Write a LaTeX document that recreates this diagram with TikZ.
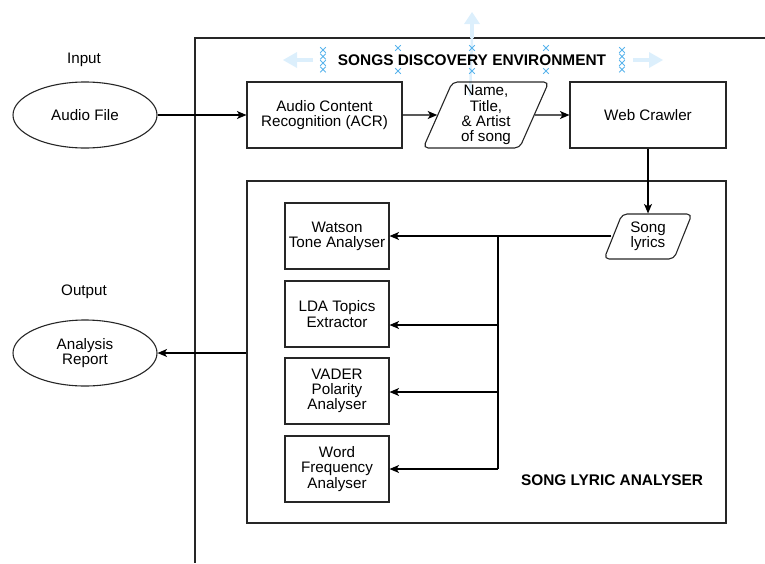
\documentclass[tikz,border=0pt]{standalone}
\usepackage{fontspec}
\setmainfont{Liberation Sans}
\usetikzlibrary{shapes.geometric,arrows.meta}

\definecolor{handlepale}{HTML}{DCEFFC}
\definecolor{handlex}{HTML}{5AB4EC}

\tikzset{
  every node/.style={font=\fontsize{15.2}{15.3}\selectfont, align=center, inner sep=0pt},
  stroke/.style={draw=black!85, line width=1.1pt},
  block/.style={stroke, rectangle, minimum height=66pt},
  oval/.style={stroke, ellipse, minimum width=144pt, minimum height=66pt},
  slanted/.style={stroke, trapezium, rounded corners=5pt,
    trapezium stretches=true},
  title/.style={font=\fontsize{15.4}{15.4}\selectfont\bfseries},
  flow/.style={draw=black, line width=1.1pt,
    -{Stealth[length=9.5pt,width=8pt,inset=2.5pt]}},
  plain/.style={draw=black, line width=1.1pt},
  paleline/.style={draw=handlepale, line width=3.5pt},
  palehead/.style={fill=handlepale, draw=none},
}

% small cross used as a selection handle
\newcommand{\handlecross}[2]{%
  \draw[handlex, line width=1pt] (#1-2.8,#2-2.8) -- (#1+2.8,#2+2.8)
                                (#1-2.8,#2+2.8) -- (#1+2.8,#2-2.8);}

\begin{document}
\begin{tikzpicture}[x=1pt, y=-1pt]
\useasboundingbox (0,0) rectangle (765,563);

% environment frame (open to the right and bottom)
\draw[stroke] (765,38) -- (195,38) -- (195,563);

% selection handles around the environment title
\draw[paleline] (472,38) -- (472,24);
\fill[palehead] (472,12) -- (480,24) -- (464,24) -- cycle;
\draw[draw=handlepale, line width=2.5pt] (472,38) -- (470,96);
\draw[paleline] (313,60) -- (297,60);
\fill[palehead] (283,60) -- (297,52) -- (297,68) -- cycle;
\draw[paleline] (633,60) -- (649,60);
\fill[palehead] (663,60) -- (649,52) -- (649,68) -- cycle;
\foreach \yy in {50,56.5,63,69.5} {\handlecross{323}{\yy}\handlecross{622}{\yy}}
\foreach \xx in {398,472,546} {\handlecross{\xx}{48}\handlecross{\xx}{71}}

\node[title] (envtitle) at (472,60) {SONGS DISCOVERY ENVIRONMENT};

% input side
\node (inputlabel) at (84,60) {Input};
\node[oval] (audio) at (85,115) {Audio File};

% discovery chain
\node[block, minimum width=155pt] (acr) at (324.5,115) {Audio Content\\Recognition (ACR)};
\node[slanted, minimum width=126pt, minimum height=66pt,
      trapezium left angle=70, trapezium right angle=110] (meta) at (486,115)
      {Name,\\Title,\\\& Artist\\of song};
\node[block, minimum width=156pt] (crawler) at (648,115) {Web Crawler};

% lyric analyser frame
\node[stroke, rectangle, minimum width=479pt, minimum height=342pt] (analyser) at (486.5,352) {};
\node[title] (anltitle) at (612,480) {SONG LYRIC ANALYSER};

\node[slanted, minimum width=88pt, minimum height=45pt,
      trapezium left angle=67, trapezium right angle=113] (lyrics) at (648,236.5)
      {Song\\lyrics};

\node[block, minimum width=104pt] (watson) at (337,236) {Watson\\Tone Analyser};
\node[block, minimum width=104pt] (lda) at (337,314) {LDA Topics\\Extractor};
\node[block, minimum width=104pt] (vader) at (337,391) {VADER\\Polarity\\Analyser};
\node[block, minimum width=104pt] (wordfreq) at (337,469) {Word\\Frequency\\Analyser};

% output side
\node (outputlabel) at (84,292) {Output};
\node[oval] (report) at (85,353) {Analysis\\Report};

% connectors
\draw[flow] (audio) -- (acr);
\draw[flow] (acr) -- (meta);
\draw[flow] (meta) -- (crawler);
\draw[flow] (crawler.south) -- (lyrics.north -| crawler.south);

\coordinate (trunktop) at (498,236);
\coordinate (trunklda) at (498,325);
\coordinate (trunkvader) at (498,392);
\coordinate (trunkbot) at (498,469);

\draw[flow] (lyrics.west |- trunktop) ++(-1,0) -- (watson.east |- trunktop);
\draw[plain] (trunktop) -- (trunkbot);
\draw[flow] (trunklda) -- (lda.east |- trunklda);
\draw[flow] (trunkvader) -- (vader.east |- trunkvader);
\draw[flow] (trunkbot) -- (wordfreq.east |- trunkbot);

\draw[flow] (analyser.west |- report.east) -- (report.east);
\end{tikzpicture}
\end{document}
